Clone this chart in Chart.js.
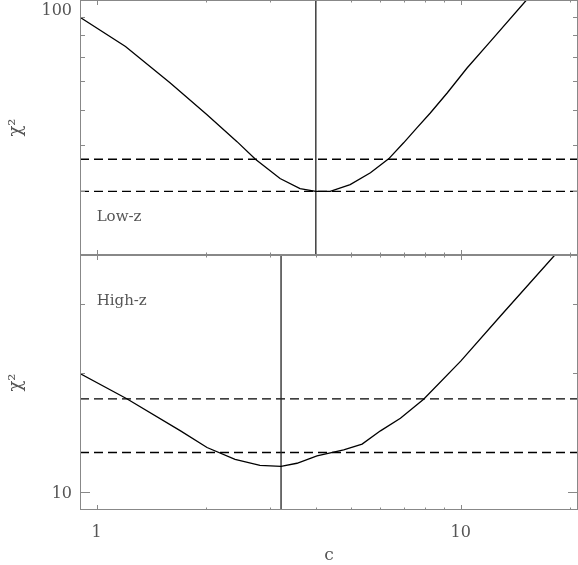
<!doctype html>
<html>
<head>
	<title>chi2 vs c</title>
	<script src="https://cdn.jsdelivr.net/npm/chart.js@4.4.1/dist/chart.umd.min.js"></script>
	<style>
		html, body { margin: 0; padding: 0; background: #fff; }
	</style>
</head>
<body>
	<canvas id="canvas" width="578" height="565"></canvas>
	<script>
		// x axis: concentration c (log)
		var cMin = 0.9, cMax = 21;
		var cMajor = [1, 10];
		var cMinor = [2, 3, 4, 5, 6, 7, 8, 9, 20];

		// Low-z panel
		var cLow   = [0.9, 1.2, 1.59, 2.01, 2.43, 2.73, 3.19, 3.62, 4.0, 4.38, 4.97, 5.65, 6.34, 6.97, 7.59, 8.25, 9.18, 10.41, 12.07, 15.16, 17.0];
		var chiLow = [89.7, 74.6, 59.3, 48.5, 40.9, 36.6, 32.4, 30.4, 29.9, 29.9, 31.2, 33.6, 36.7, 40.6, 44.7, 49.0, 55.6, 65.1, 77.0, 100, 114];
		var lowLevels = [29.9, 36.6];
		var cBestLow = 4.0;
		var lowMin = 20, lowMax = 100;
		var lowMajor = [100];
		var lowMinor = [30, 40, 50, 60, 70, 80, 90];
		var lowLabel = {c: 1, chi: 24.8, text: 'Low-z'};

		// High-z panel
		var cHigh   = [0.9, 1.21, 1.7, 2.01, 2.4, 2.81, 3.21, 3.55, 4.03, 4.77, 5.36, 6.02, 6.83, 7.91, 10.0, 12.86, 18.14, 21];
		var chiHigh = [20.0, 17.25, 14.3, 12.97, 12.11, 11.69, 11.62, 11.83, 12.35, 12.79, 13.23, 14.3, 15.4, 17.2, 21.5, 28.0, 40, 46.5];
		var highLevels = [12.6, 17.25];
		var cBestHigh = 3.21;
		var highMin = 9, highMax = 40;
		var highMajor = [10];
		var highMinor = [20, 30];
		var highLabel = {c: 1, chi: 29.8, text: 'High-z'};

		var FONT = 'DejaVu Serif';
		var TEXT = '#555';

		function pts(xs, ys) {
			return xs.map(function(x, i) { return {x: x, y: ys[i]}; });
		}

		var datasets = [
			{data: pts(cLow, chiLow), yAxisID: 'yLow'},
			{data: pts(cHigh, chiHigh), yAxisID: 'yHigh'},
			{data: [{x: cBestLow, y: lowMin}, {x: cBestLow, y: lowMax}], yAxisID: 'yLow', borderColor: '#222'},
			{data: [{x: cBestHigh, y: highMin}, {x: cBestHigh, y: highMax}], yAxisID: 'yHigh', borderColor: '#222'}
		];
		lowLevels.forEach(function(v) {
			datasets.push({data: [{x: cMin, y: v}, {x: cMax, y: v}], yAxisID: 'yLow', borderDash: [9, 5]});
		});
		highLevels.forEach(function(v) {
			datasets.push({data: [{x: cMin, y: v}, {x: cMax, y: v}], yAxisID: 'yHigh', borderDash: [9, 5]});
		});

		// keep each curve inside its own panel
		var panelClip = {
			id: 'panelClip',
			beforeDatasetDraw: function(chart, args) {
				var y = args.meta.yScale, a = chart.chartArea, ctx = chart.ctx;
				ctx.save();
				ctx.beginPath();
				ctx.rect(a.left, y.top, a.right - a.left, y.bottom - y.top);
				ctx.clip();
			},
			afterDatasetDraw: function(chart) {
				chart.ctx.restore();
			}
		};

		// IDL style boxes with inward ticks, plus panel labels
		var frames = {
			id: 'frames',
			afterDatasetsDraw: function(chart) {
				var ctx = chart.ctx, xs = chart.scales.x, a = chart.chartArea;
				var panels = [
					['yLow', lowMajor, lowMinor, lowLabel],
					['yHigh', highMajor, highMinor, highLabel]
				];
				ctx.save();
				ctx.strokeStyle = '#888';
				ctx.lineWidth = 1;
				panels.forEach(function(p) {
					var ys = chart.scales[p[0]];
					ctx.strokeRect(a.left + 0.5, ys.top + 0.5, a.right - a.left - 1, ys.bottom - ys.top - 1);
					ctx.beginPath();
					[[cMajor, 5], [cMinor, 2.5]].forEach(function(t) {
						t[0].forEach(function(v) {
							var px = Math.round(xs.getPixelForValue(v)) + 0.5;
							ctx.moveTo(px, ys.top); ctx.lineTo(px, ys.top + t[1]);
							ctx.moveTo(px, ys.bottom); ctx.lineTo(px, ys.bottom - t[1]);
						});
					});
					[[p[1], 10], [p[2], 5]].forEach(function(t) {
						t[0].forEach(function(v) {
							var py = Math.round(ys.getPixelForValue(v)) + 0.5;
							ctx.moveTo(a.left, py); ctx.lineTo(a.left + t[1], py);
							ctx.moveTo(a.right, py); ctx.lineTo(a.right - t[1], py);
						});
					});
					ctx.stroke();

					var lab = p[3];
					ctx.fillStyle = TEXT;
					ctx.font = '15px "' + FONT + '"';
					ctx.textAlign = 'left';
					ctx.textBaseline = 'alphabetic';
					ctx.fillText(lab.text, xs.getPixelForValue(lab.c), ys.getPixelForValue(lab.chi));
				});
				ctx.restore();
			}
		};

		function yAxis(min, max, major, weight, offset) {
			return {
				type: 'logarithmic',
				position: 'left',
				stack: 'panels',
				stackWeight: 1,
				weight: weight,
				min: min,
				max: max,
				grid: {display: false, drawTicks: false},
				border: {display: false},
				afterBuildTicks: function(s) {
					s.ticks = major.map(function(v) { return {value: v}; });
				},
				ticks: {
					autoSkip: false,
					padding: 8,
					labelOffset: offset,
					color: TEXT,
					font: {family: FONT, size: 16},
					callback: function(v) { return String(v); }
				},
				title: {
					display: true,
					text: 'χ²',
					color: TEXT,
					font: {family: FONT, size: 18, lineHeight: 1},
					padding: {top: 7, bottom: 0}
				},
				afterFit: function(s) {
					s.width = 80;
					s.paddingTop = 0;
					s.paddingBottom = 0;
				}
			};
		}

		window.onload = function() {
			var ctx = document.getElementById('canvas').getContext('2d');
			window.myChart = new Chart(ctx, {
				type: 'line',
				data: {datasets: datasets},
				plugins: [panelClip, frames],
				options: {
					responsive: false,
					animation: false,
					devicePixelRatio: 1,
					layout: {padding: 0},
					elements: {
						point: {radius: 0},
						line: {tension: 0, borderWidth: 1.3, borderColor: '#000', fill: false}
					},
					plugins: {
						legend: {display: false},
						tooltip: {enabled: false}
					},
					scales: {
						x: {
							type: 'logarithmic',
							position: 'bottom',
							min: cMin,
							max: cMax,
							grid: {display: false, drawTicks: false},
							border: {display: false},
							afterBuildTicks: function(s) {
								s.ticks = cMajor.map(function(v) { return {value: v}; });
							},
							ticks: {
								autoSkip: false,
								maxRotation: 0,
								padding: 13,
								color: TEXT,
								font: {family: FONT, size: 16},
								callback: function(v) { return String(v); }
							},
							title: {
								display: true,
								text: 'c',
								color: TEXT,
								font: {family: FONT, size: 17, lineHeight: 1},
								padding: {top: 0, bottom: 1}
							},
							afterFit: function(s) {
								s.height = 55;
								s.paddingLeft = 0;
								s.paddingRight = 0;
							}
						},
						yLow: yAxis(lowMin, lowMax, lowMajor, 2, 11),
						yHigh: yAxis(highMin, highMax, highMajor, 1, 2)
					}
				}
			});
		};
	</script>
</body>
</html>
